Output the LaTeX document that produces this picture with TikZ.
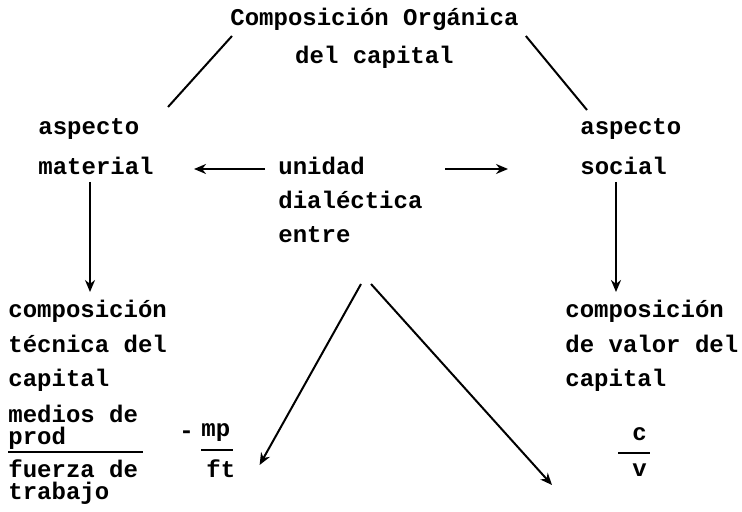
\documentclass[tikz,border=0pt]{standalone}
\usepackage{fontspec}
\setmonofont{Liberation Mono}
\usepackage{tikz}
\usetikzlibrary{calc,arrows.meta}

\tikzset{
  txt/.style={anchor=base west, inner sep=0pt, align=left, font=\ttfamily\bfseries\fontsize{12}{17}\selectfont},
  conn/.style={line width=1pt},
  arr/.style={line width=1pt, -{Stealth[length=6pt,width=5pt]}}
}

\begin{document}
\begin{tikzpicture}[x=0.5pt,y=-0.5pt]
			%%%%% START %%%%%
			\useasboundingbox (0,0) rectangle (742,512);
			
			\node[txt, align=center, font=\ttfamily\bfseries\fontsize{12}{19}\selectfont] (title) at (230,64) {Composición Orgánica\\del capital};
			
			\node[txt, font=\ttfamily\bfseries\fontsize{12}{20}\selectfont] (aspmat) at (38,175) {aspecto\\material};
			\node[txt] (unidad) at (278,243) {unidad\\dialéctica\\entre};
			\node[txt, font=\ttfamily\bfseries\fontsize{12}{20}\selectfont] (aspsoc) at (580,175) {aspecto\\social};
			
			\node[txt] (tecnica) at (8,386) {composición\\técnica del\\capital};
			\node[txt] (valor) at (565,386) {composición\\de valor del\\capital};
			
			\node[txt] (medios) at (8,422) {medios de};
			\node[txt] (prod) at (8,444) {prod};
			\node[txt, font=\ttfamily\bfseries\fontsize{12}{11}\selectfont] (fuerza) at (8,499) {fuerza de\\trabajo};
			\node[txt] (menos) at (179,438) {-};
			
			\node[txt] (mp) at (201,436) {mp};
			\node[txt] (ft) at (206,477) {ft};
			\node[txt] (cc) at (632,440) {c};
			\node[txt] (vv) at (632,476) {v};
			
			% barras de fraccion
			\draw[conn] ($(prod.base west)+(0,8)$) -- ($(prod.base west)+(135,8)$);
			\draw[conn] ($(mp.base west)+(0,14)$) -- ($(mp.base west)+(32,14)$);
			\draw[conn] ($(cc.base west)+(-14,13)$) -- ($(cc.base west)+(18,13)$);
			
			% lineas del titulo
			\draw[conn] ($(title.base west)+(2,-28)$) -- ($(aspmat.base west)+(130,-68)$);
			\draw[conn] ($(title.base east)+(7,-28)$) -- ($(aspsoc.base west)+(7,-65)$);
			
			% flechas horizontales
			\draw[arr] ($(unidad.base west)+(-13,-74)$) -- ($(aspmat.base east)+(40,-6)$);
			\draw[arr] ($(unidad.base west)+(167,-74)$) -- ($(aspsoc.base west)+(-72,-6)$);
			
			% flechas verticales
			\draw[arr] ($(aspmat.base west)+(52,7)$) -- ($(tecnica.base west)+(82,-94)$);
			\draw[arr] ($(aspsoc.base west)+(36,7)$) -- ($(valor.base west)+(51,-94)$);
			
			% flechas diagonales
			\draw[arr] ($(unidad.base west)+(83,41)$) -- ($(mp.base east)+(29,29)$);
			\draw[arr] ($(unidad.base west)+(93,41)$) -- ($(cc.base west)+(-80,45)$);
			%%%%% END %%%%%
		\end{tikzpicture}
\end{document}
